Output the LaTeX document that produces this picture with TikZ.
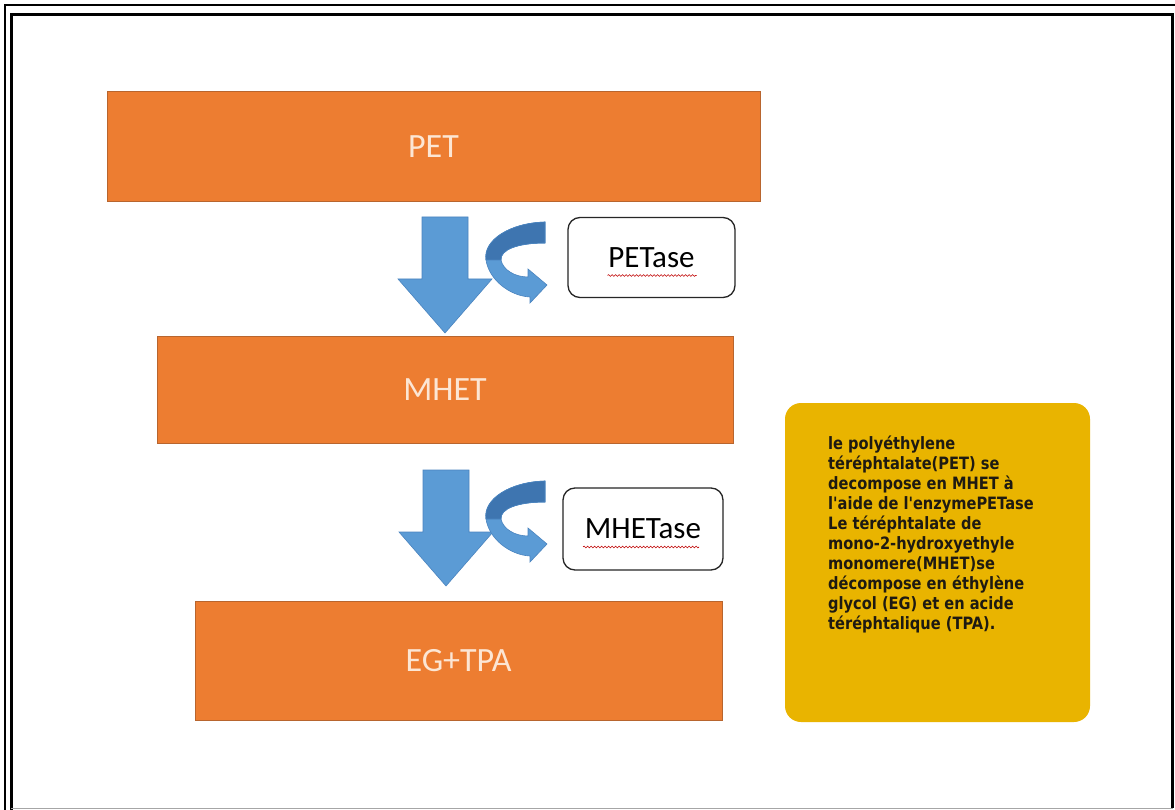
\documentclass[tikz,border=0pt]{standalone}
\usepackage{fontspec}
\newfontfamily\calib{Carlito}
\newfontfamily\dvs{DejaVu Sans}[FakeStretch=0.86]
\usetikzlibrary{decorations.pathmorphing}
\definecolor{orangebox}{HTML}{ED7D31}
\definecolor{orangeedge}{HTML}{B8652E}
\definecolor{cream}{HTML}{FCE6D4}
\definecolor{arrowblue}{HTML}{5B9BD5}
\definecolor{arrowdark}{HTML}{3E75B0}
\definecolor{arrowedge}{HTML}{4A84BF}
\definecolor{yellowbox}{HTML}{E9B400}
\definecolor{textdark}{HTML}{1E1A12}
\tikzset{
  orangenode/.style={fill=orangebox, draw=orangeedge, line width=1pt, inner sep=0pt,
    text=cream, font=\calib\fontsize{34}{38}\selectfont},
  enzymebox/.style={draw=black!85, line width=1.3pt, rounded corners=12pt, fill=white,
    inner sep=0pt, font=\calib\fontsize{31}{36}\selectfont},
  squiggle/.style={draw=red!75!black, line width=0.6pt, decorate,
    decoration={snake, amplitude=0.9pt, segment length=3.5pt}},
  pics/blockdown/.style={code={
    \filldraw[fill=arrowblue, draw=arrowedge, line width=0.6pt]
      (-23,0) -- (23,0) -- (23,62) -- (47,62) -- (0,116) -- (-47,62) -- (-23,62) -- cycle;
  }},
  pics/curl/.style={code={
    \filldraw[fill=arrowblue, draw=arrowedge, line width=0.6pt]
      (0,0) .. controls (-35,1) and (-62,18) .. (-59,38)
      .. controls (-56,58) and (-35,74) .. (-15,75)
      -- (-15,81) -- (2,63) -- (-17,47) -- (-17,55)
      .. controls (-30,55) and (-42,48) .. (-44,38)
      .. controls (-45,28) and (-28,21) .. (0,21) -- cycle;
    \filldraw[fill=arrowdark, draw=arrowedge, line width=0.6pt]
      (0,0) .. controls (-35,1) and (-62,18) .. (-59,38)
      -- (-44,38) .. controls (-45,28) and (-28,21) .. (0,21) -- cycle;
  }}
}
\begin{document}
\begin{tikzpicture}[x=1pt,y=-1pt]
\useasboundingbox (0,0) rectangle (1175,810);
\fill[white] (0,0) rectangle (1175,810);
% frame
\draw[line width=1.5pt] (5,810) -- (5,5) -- (1175,5);
\draw[line width=3pt] (11,810) -- (11,15) -- (1172.5,15) -- (1172.5,808);
\draw[gray!70, line width=1.2pt] (11,808.5) -- (1172.5,808.5);
% orange boxes
\node[orangenode, minimum width=653pt, minimum height=110pt] (pet) at (433.5,147) {PET};
\node[orangenode, minimum width=576pt, minimum height=107pt] (mhet) at (445,389.5) {MHET};
\node[orangenode, minimum width=527pt, minimum height=119pt] (egtpa) at (458.5,660.5) {EG+TPA};
% block arrows
\pic at (445,217) {blockdown};
\pic at (446,470) {blockdown};
% curved arrows
\pic at (545,222) {curl};
\pic at (545,481) {curl};
% enzyme boxes
\node[enzymebox, minimum width=167pt, minimum height=80pt] (petase) at (651.5,257.5) {PETase};
\node[enzymebox, minimum width=160pt, minimum height=82pt] (mhetase) at (643,529) {MHETase};
\draw[squiggle] ([xshift=-44pt,yshift=-18pt]petase.center) -- ([xshift=45pt,yshift=-18pt]petase.center);
\draw[squiggle] ([xshift=-60pt,yshift=-18pt]mhetase.center) -- ([xshift=56pt,yshift=-18pt]mhetase.center);
% yellow info box
\node[fill=yellowbox, rounded corners=16pt, minimum width=305pt, minimum height=319pt, inner sep=0pt] (info) at (937.5,562.5) {};
\node[anchor=north west, inner sep=0pt, align=left, text=textdark,
  font=\dvs\bfseries\fontsize{17}{20}\selectfont] (infotext) at (828,436)
{le polyéthylene\\
téréphtalate(PET) se\\
decompose en MHET à\\
l'aide de l'enzymePETase\\
Le téréphtalate de\\
mono-2-hydroxyethyle\\
monomere(MHET)se\\
décompose en éthylène\\
glycol (EG) et en acide\\
téréphtalique (TPA).};
\end{tikzpicture}
\end{document}
